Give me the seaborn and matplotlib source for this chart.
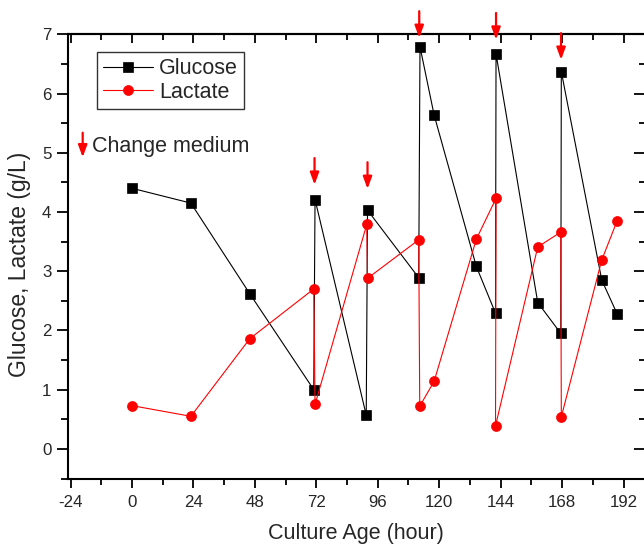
import matplotlib
matplotlib.use("Agg")
import matplotlib.pyplot as plt
import seaborn as sns
import numpy as np
import pandas as pd

# ---- data ----
glucose_hours = [0, 23, 46, 71, 71.5, 91.5, 92, 112, 112.5, 118, 134.5, 142, 142.2,
                 158.5, 167.5, 167.7, 183.5, 189.5]
glucose_values = [4.40, 4.15, 2.62, 1.00, 4.21, 0.57, 4.03, 2.89, 6.79, 5.64, 3.08,
                  2.29, 6.67, 2.47, 1.95, 6.37, 2.85, 2.28]

lactate_hours = [0, 23, 46, 71, 71.5, 91.7, 92, 112, 112.4, 118, 134.5, 142.2, 142,
                 158.5, 167.5, 167.7, 183.5, 189.5]
lactate_values = [0.73, 0.55, 1.86, 2.70, 0.75, 3.79, 2.88, 3.53, 0.72, 1.14, 3.54,
                  4.23, 0.39, 3.41, 3.66, 0.54, 3.19, 3.85]

change_hours = [71.3, 92, 112.2, 142.2, 167.6]
arrow_tip = [4.46, 4.39, 6.94, 6.91, 6.57]

x_ticks = [-24, 0, 24, 48, 72, 96, 120, 144, 168, 192]
y_ticks = [0, 1, 2, 3, 4, 5, 6, 7]

sns.set_style("ticks")
plt.rcParams['font.family'] = ['Liberation Sans', 'DejaVu Sans']

fig = plt.figure(figsize=(6.44, 5.44), dpi=100)
W, H = 644, 544
left, right, top, bottom = 68, 644, 34.3, 478.5
ax = fig.add_axes([left / W, (H - bottom) / H, (right - left) / W, (bottom - top) / H])

gdf = pd.DataFrame({"hour": glucose_hours, "value": glucose_values})
ldf = pd.DataFrame({"hour": lactate_hours, "value": lactate_values})

sns.lineplot(data=gdf, x="hour", y="value", sort=False, estimator=None, ax=ax,
             color="black", marker="s", markersize=6.5, markeredgecolor="black",
             markeredgewidth=0.5, linewidth=0.8, label="Glucose", zorder=3)
sns.lineplot(data=ldf, x="hour", y="value", sort=False, estimator=None, ax=ax,
             color="red", marker="o", markersize=7.2, markeredgecolor="red",
             markeredgewidth=0.5, linewidth=0.8, label="Lactate", zorder=4)

ax.set_xlim(-25, 200)
ax.set_ylim(-0.5, 7)
ax.set_xticks(x_ticks)
ax.set_xticks(np.arange(-24, 200, 12), minor=True)
ax.set_yticks(y_ticks)
ax.set_yticks(np.arange(-0.5, 7.01, 0.5), minor=True)
ax.tick_params(axis='both', which='both', direction='out', width=1.3,
               top=False, right=False, color='black')
ax.tick_params(axis='x', which='major', length=6.5, pad=5.5, labelsize=12.2)
ax.tick_params(axis='x', which='minor', length=4.3)
ax.tick_params(axis='y', which='major', length=8, pad=4, labelsize=12.2)
ax.tick_params(axis='y', which='minor', length=4.8)
ax.set_yticklabels([str(v) for v in y_ticks])
ax.set_xticklabels([str(v) for v in x_ticks])

for s in ['left', 'bottom', 'top']:
    ax.spines[s].set_linewidth(1.5)
    ax.spines[s].set_color('black')
ax.spines['right'].set_visible(False)

secx = ax.secondary_xaxis('top')
secx.set_xticks(x_ticks)
secx.set_xticks(np.arange(-24, 200, 12), minor=True)
secx.tick_params(which='major', direction='in', length=6.5, width=1.3, labeltop=False, color='black')
secx.tick_params(which='minor', direction='in', length=4, width=1.3, color='black')
secx.spines['top'].set_linewidth(1.5)

secy = ax.secondary_yaxis('right')
secy.set_yticks(y_ticks)
secy.set_yticks(np.arange(-0.5, 7.01, 0.5), minor=True)
secy.tick_params(which='major', direction='in', length=7, width=1.3, labelright=False, color='black')
secy.tick_params(which='minor', direction='in', length=3.5, width=1.3, color='black')
secy.spines['right'].set_visible(False)

ax.set_xlabel("Culture Age (hour)", fontsize=15.5, labelpad=9.5)
ax.set_ylabel("Glucose, Lactate (g/L)", fontsize=16.5)
ax.yaxis.set_label_coords(-0.064, 0.481)

leg = ax.legend(loc='upper left', bbox_to_anchor=(0.0498, 0.9608), borderaxespad=0,
                fontsize=15.5, frameon=True, fancybox=False, edgecolor='black',
                handlelength=2.3, handletextpad=0.3, labelspacing=0.12, borderpad=0.3)
leg.get_frame().set_linewidth(1.0)

arrow_kw = dict(arrowstyle='-|>,head_length=0.6,head_width=0.22', color='red',
                lw=1.6, shrinkA=0, shrinkB=0, mutation_scale=12)
for h, tip in zip(change_hours, arrow_tip):
    ax.annotate('', xy=(h, tip), xytext=(h, tip + 0.45), arrowprops=arrow_kw,
                annotation_clip=False, zorder=6)

ax.annotate('', xy=(0.0255, 0.7231), xytext=(0.0255, 0.7785), xycoords='axes fraction',
            textcoords='axes fraction', arrowprops=arrow_kw)
ax.text(0.0411, 0.7463, "Change medium", transform=ax.transAxes, fontsize=15.5,
        va='center', ha='left')

fig.savefig("out.png", dpi=100)
